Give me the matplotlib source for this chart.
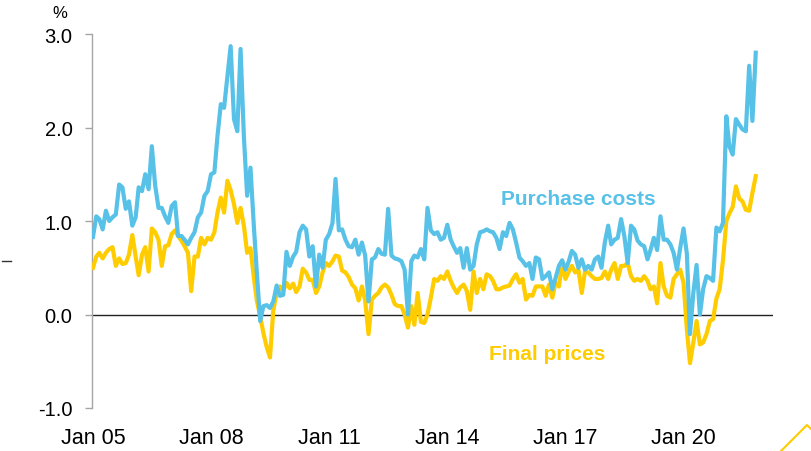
import matplotlib
matplotlib.use("Agg")
import matplotlib.pyplot as plt
from matplotlib.lines import Line2D
import pandas as pd

# ---------------- data (monthly, Jan 2005 - Nov 2021) ----------------
start_month = "2005-01-01"

purchase_costs = [
    0.83, 1.05, 1.02, 0.91, 1.11, 1.00, 1.04, 1.07, 1.39, 1.36, 1.13, 1.21,
    0.95, 1.04, 1.36, 1.32, 1.50, 1.34, 1.80, 1.38, 1.14, 1.14, 1.05, 0.98,
    1.16, 1.20, 0.84, 0.84, 0.80, 0.75, 0.82, 0.88, 1.04, 1.09, 1.27, 1.32,
    1.50, 1.52, 1.91, 2.25, 2.21, 2.55, 2.87, 2.09, 1.96, 2.84, 1.90, 1.27,
    1.57, 0.95, 0.45, -0.07, 0.09, 0.10, 0.07, 0.14, 0.31, 0.20, 0.21, 0.67,
    0.52, 0.62, 0.67, 0.88, 0.95, 0.91, 0.62, 0.73, 0.30, 0.64, 0.50, 0.80,
    0.86, 0.98, 1.45, 0.90, 0.91, 0.80, 0.73, 0.72, 0.80, 0.64, 0.77, 0.63,
    0.14, 0.59, 0.61, 0.70, 0.65, 0.64, 1.13, 0.63, 0.60, 0.59, 0.57, 0.48,
    0.00, 0.57, 0.63, 0.61, 0.70, 0.59, 1.14, 0.90, 0.86, 0.88, 0.80, 0.82,
    0.96, 0.80, 0.73, 0.66, 0.71, 0.50, 0.71, 0.48, 0.52, 0.75, 0.88, 0.89,
    0.91, 0.89, 0.88, 0.82, 0.70, 0.88, 0.84, 0.98, 0.91, 0.77, 0.61, 0.57,
    0.52, 0.55, 0.38, 0.61, 0.59, 0.38, 0.41, 0.45, 0.27, 0.39, 0.52, 0.58,
    0.48, 0.57, 0.68, 0.64, 0.50, 0.59, 0.48, 0.52, 0.48, 0.59, 0.62, 0.50,
    0.77, 0.95, 0.75, 0.80, 0.82, 1.02, 0.84, 0.55, 0.95, 0.91, 0.79, 0.75,
    0.73, 0.59, 0.69, 0.82, 0.69, 1.05, 0.80, 0.80, 0.75, 0.66, 0.48, 0.71,
    0.92, 0.65, -0.21, 0.23, 0.53, 0.00, 0.27, 0.41, 0.39, 0.36, 0.93, 0.89,
    0.98, 2.12, 1.80, 1.71, 2.09, 2.03, 1.98, 1.96, 2.66, 2.07, 2.80,
]

final_prices = [
    0.50, 0.62, 0.66, 0.60, 0.66, 0.70, 0.72, 0.52, 0.60, 0.54, 0.55, 0.64,
    0.85, 0.62, 0.42, 0.64, 0.72, 0.46, 0.92, 0.88, 0.80, 0.52, 0.73, 0.74,
    0.86, 0.90, 0.84, 0.79, 0.73, 0.66, 0.25, 0.62, 0.62, 0.82, 0.75, 0.82,
    0.80, 0.88, 1.09, 1.25, 1.09, 1.43, 1.33, 1.18, 0.98, 1.14, 0.95, 0.66,
    0.71, 0.40, 0.15, -0.02, -0.20, -0.35, -0.46, 0.05, 0.23, 0.30, 0.25, 0.34,
    0.28, 0.33, 0.24, 0.30, 0.49, 0.45, 0.37, 0.37, 0.23, 0.30, 0.45, 0.55,
    0.52, 0.57, 0.63, 0.62, 0.47, 0.45, 0.40, 0.32, 0.28, 0.15, 0.30, 0.15,
    -0.21, 0.16, 0.20, 0.23, 0.29, 0.32, 0.29, 0.21, 0.11, 0.09, 0.09, 0.00,
    -0.14, 0.09, -0.11, 0.23, -0.08, -0.09, 0.00, 0.18, 0.38, 0.36, 0.41, 0.38,
    0.46, 0.36, 0.29, 0.23, 0.29, 0.32, 0.25, 0.05, 0.46, 0.23, 0.38, 0.27,
    0.43, 0.41, 0.36, 0.27, 0.27, 0.29, 0.30, 0.31, 0.38, 0.43, 0.34, 0.38,
    0.16, 0.21, 0.20, 0.30, 0.30, 0.30, 0.20, 0.32, 0.18, 0.34, 0.30, 0.54,
    0.38, 0.46, 0.52, 0.45, 0.48, 0.23, 0.46, 0.45, 0.41, 0.38, 0.38, 0.39,
    0.46, 0.38, 0.48, 0.55, 0.38, 0.52, 0.52, 0.55, 0.41, 0.36, 0.38, 0.36,
    0.41, 0.36, 0.27, 0.30, 0.12, 0.55, 0.30, 0.20, 0.18, 0.38, 0.43, 0.48,
    0.34, -0.16, -0.52, -0.30, -0.07, -0.32, -0.30, -0.21, -0.07, -0.05, 0.17, 0.27,
    0.58, 1.00, 1.08, 1.15, 1.37, 1.24, 1.21, 1.12, 1.11, 1.30, 1.48,
]

tick_years = [2005, 2008, 2011, 2014, 2017, 2020]
tick_labels = ["Jan 05", "Jan 08", "Jan 11", "Jan 14", "Jan 17", "Jan 20"]
y_ticks = [-1.0, 0.0, 1.0, 2.0, 3.0]

dates = pd.date_range(start_month, periods=len(purchase_costs), freq="MS")

BLUE = "#57C1E8"
GOLD = "#FFCC00"
FONT = "Liberation Sans"

plt.rcParams["font.family"] = [FONT, "DejaVu Sans"]

fig = plt.figure(figsize=(8.11, 4.52), dpi=100)
ax = fig.add_axes([92 / 811, 1 - 409 / 452, (773 - 92) / 811, (409 - 35) / 452])

ax.plot(dates, final_prices, color=GOLD, lw=3.0, solid_joinstyle="round", zorder=3)
ax.plot(dates, purchase_costs, color=BLUE, lw=3.0, solid_joinstyle="round", zorder=4)
ax.axhline(0, color="#222222", lw=1.0, zorder=2)

ax.set_ylim(-1.0, 3.0)
ax.set_xlim(pd.Timestamp("2004-12-23"), pd.Timestamp("2022-04-10"))
ax.set_yticks(y_ticks)
ax.set_yticklabels([f"{v:.1f}" for v in y_ticks])
ax.set_xticks([pd.Timestamp(f"{y}-01-01") for y in tick_years])
ax.set_xticklabels(tick_labels)

for s in ["top", "right", "bottom"]:
    ax.spines[s].set_visible(False)
ax.spines["left"].set_color("#A6A6A6")
ax.spines["left"].set_linewidth(1.0)

ax.tick_params(axis="y", direction="out", length=5, width=1, color="#A6A6A6",
               labelsize=14.5, pad=9, labelcolor="#000000")
ax.tick_params(axis="x", length=0, labelsize=15.5, pad=14, labelcolor="#000000")

ax.text(0.7137, 0.561, "Purchase costs", transform=ax.transAxes, color=BLUE,
        fontsize=15, fontweight="bold", ha="center", va="center")
ax.text(0.668, 0.147, "Final prices", transform=ax.transAxes, color=GOLD,
        fontsize=15, fontweight="bold", ha="center", va="center")

fig.text(60 / 811, 1 - 13 / 452, "%", fontsize=12, ha="center", va="center")

# small dash at the left margin
fig.add_artist(Line2D([2 / 811, 11 / 811], [1 - 262 / 452, 1 - 262 / 452],
                      transform=fig.transFigure, color="#333333", lw=1.0))

# decorative corner chevron
fig.add_artist(Line2D([781 / 811, 807 / 811, 833 / 811],
                      [1 - 452 / 452, 1 - 426 / 452, 1 - 452 / 452],
                      transform=fig.transFigure, color=GOLD, lw=1.5, clip_on=False))

fig.savefig("out.png", dpi=100)
